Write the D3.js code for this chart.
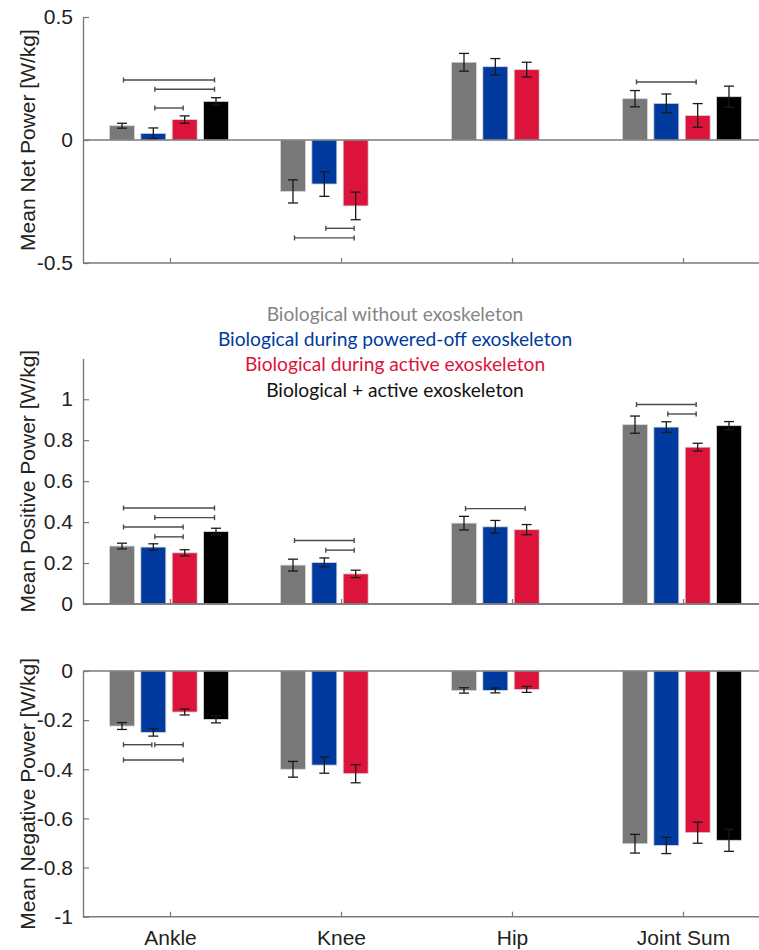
<!DOCTYPE html>
<html>
<head>
<meta charset="utf-8">
<script src="https://cdn.jsdelivr.net/npm/d3@7"></script>
<style>
  html, body { margin: 0; padding: 0; background: #fff; }
  svg { display: block; }
</style>
</head>
<body>
<script>
// Joint categories and experimental conditions
const categories = ["Ankle", "Knee", "Hip", "Joint Sum"];
const seriesNames = [
  "Biological without exoskeleton",
  "Biological during powered-off exoskeleton",
  "Biological during active exoskeleton",
  "Biological + active exoskeleton"
];
const barColors = ["#787878", "#003a9e", "#dc143c", "#000000"];
const legendColors = ["#858585", "#003a9e", "#dc143c", "#111111"];

// Mean net power [W/kg] and its error, per condition (null = not measured)
const netWithout     = [0.058, -0.209, 0.316, 0.168];
const netPoweredOff  = [0.027, -0.179, 0.298, 0.149];
const netActive      = [0.083, -0.268, 0.286, 0.100];
const netTotal       = [0.157, null, null, 0.176];
const netWithoutErr    = [0.010, 0.047, 0.036, 0.033];
const netPoweredOffErr = [0.022, 0.050, 0.033, 0.038];
const netActiveErr     = [0.015, 0.056, 0.030, 0.048];
const netTotalErr      = [0.015, null, null, 0.043];

// Mean positive power [W/kg]
const posWithout     = [0.283, 0.190, 0.395, 0.876];
const posPoweredOff  = [0.278, 0.203, 0.377, 0.864];
const posActive      = [0.250, 0.147, 0.363, 0.766];
const posTotal       = [0.354, null, null, 0.871];
const posWithoutErr    = [0.014, 0.029, 0.033, 0.042];
const posPoweredOffErr = [0.016, 0.022, 0.031, 0.026];
const posActiveErr     = [0.015, 0.018, 0.025, 0.019];
const posTotalErr      = [0.016, null, null, 0.020];

// Mean negative power [W/kg]
const negWithout     = [-0.224, -0.400, -0.079, -0.703];
const negPoweredOff  = [-0.250, -0.383, -0.079, -0.710];
const negActive      = [-0.167, -0.418, -0.075, -0.658];
const negTotal       = [-0.197, null, null, -0.689];
const negWithoutErr    = [0.014, 0.032, 0.011, 0.038];
const negPoweredOffErr = [0.015, 0.033, 0.010, 0.033];
const negActiveErr     = [0.012, 0.037, 0.012, 0.043];
const negTotalErr      = [0.014, null, null, 0.045];

// Significance brackets: [category, from condition, to condition, level]
const netBrackets = [
  [0, 0, 3, 0.244], [0, 1, 3, 0.206], [0, 1, 2, 0.130],
  [1, 1, 2, -0.359], [1, 0, 2, -0.398],
  [3, 0, 2, 0.236]
];
const posBrackets = [
  [0, 0, 3, 0.469], [0, 1, 3, 0.422], [0, 0, 2, 0.376], [0, 1, 2, 0.328],
  [1, 0, 2, 0.310], [1, 1, 2, 0.263],
  [2, 0, 2, 0.466],
  [3, 0, 2, 0.974], [3, 1, 2, 0.928]
];
const negBrackets = [
  [0, 0, 1, -0.300], [0, 1, 2, -0.300], [0, 0, 2, -0.362]
];

// Tick values
const netTicks = [-0.5, 0, 0.5];
const posTicks = [0, 0.2, 0.4, 0.6, 0.8, 1];
const negTicks = [-1, -0.8, -0.6, -0.4, -0.2, 0];

const W = 759, H = 950;
const axisX = 83, axisRight = 759;
const axisColor = "#7a7a7a";
const textColor = "#222222";
const sansFont = "'Liberation Sans', Arial, Helvetica, sans-serif";

const svg = d3.select("body").append("svg")
  .attr("width", W).attr("height", H)
  .style("background", "#fff");

// Category centres and per-condition offsets inside a group
const xCat = d3.scaleLinear().domain([0, 3]).range([170, 683]);
const xOff = d3.scaleLinear().domain([0, 3]).range([-48, 46]);
const barW = 25;
const cx = (i, j) => xCat(i) + xOff(j);

const fmt = d => String(d);

function drawPanel(cfg) {
  const g = svg.append("g");
  const y = d3.scaleLinear().domain(cfg.domain).range([cfg.bottom, cfg.top]);

  // Bars
  cfg.values.forEach((vals, j) => {
    vals.forEach((v, i) => {
      if (v === null) return;
      g.append("rect")
        .attr("x", cx(i, j) - barW / 2)
        .attr("y", Math.min(y(v), y(0)))
        .attr("width", barW)
        .attr("height", Math.abs(y(v) - y(0)))
        .attr("fill", barColors[j])
        .attr("stroke", "#d8d8d8")
        .attr("stroke-width", 0.8);
    });
  });

  // Error bars
  cfg.values.forEach((vals, j) => {
    vals.forEach((v, i) => {
      if (v === null) return;
      const e = cfg.errors[j][i];
      const x0 = cx(i, j);
      const y1 = y(v - e), y2 = y(v + e);
      const eg = g.append("g").attr("stroke", "#1a1a1a").attr("stroke-width", 1.3);
      eg.append("line").attr("x1", x0).attr("x2", x0).attr("y1", y1).attr("y2", y2);
      eg.append("line").attr("x1", x0 - 5).attr("x2", x0 + 5).attr("y1", y1).attr("y2", y1);
      eg.append("line").attr("x1", x0 - 5).attr("x2", x0 + 5).attr("y1", y2).attr("y2", y2);
    });
  });

  // Significance brackets
  cfg.brackets.forEach(([i, a, b, lv]) => {
    const xa = cx(i, a) + 1.5, xb = cx(i, b) - 1.5, yy = y(lv);
    const bg = g.append("g").attr("stroke", "#4a4a4a").attr("stroke-width", 1.4);
    bg.append("line").attr("x1", xa).attr("x2", xb).attr("y1", yy).attr("y2", yy);
    bg.append("line").attr("x1", xa).attr("x2", xa).attr("y1", yy - 2.5).attr("y2", yy + 2.5);
    bg.append("line").attr("x1", xb).attr("x2", xb).attr("y1", yy - 2.5).attr("y2", yy + 2.5);
  });

  // Zero baseline and bottom axis line
  g.append("line")
    .attr("x1", axisX).attr("x2", axisRight)
    .attr("y1", y(0)).attr("y2", y(0))
    .attr("stroke", axisColor).attr("stroke-width", 1.4);
  g.append("line")
    .attr("x1", axisX).attr("x2", axisRight)
    .attr("y1", cfg.bottom).attr("y2", cfg.bottom)
    .attr("stroke", axisColor).attr("stroke-width", 1.4);

  // Category ticks (inward)
  const xAxis = d3.axisBottom(xCat)
    .tickValues([0, 1, 2, 3])
    .tickSizeInner(-5).tickSizeOuter(0).tickPadding(13.4)
    .tickFormat(d => cfg.showCategories ? categories[d] : "");
  const xg = g.append("g").attr("transform", `translate(0,${cfg.bottom})`).call(xAxis);
  xg.select(".domain").remove();
  xg.selectAll(".tick line").attr("stroke", axisColor).attr("stroke-width", 1.2);
  xg.selectAll(".tick text")
    .attr("fill", textColor)
    .style("font-family", sansFont).style("font-size", "21px");

  // Y axis with inward ticks
  const yAxis = d3.axisLeft(y)
    .tickValues(cfg.ticks)
    .tickSizeInner(-6).tickSizeOuter(0).tickPadding(10)
    .tickFormat(fmt);
  const yg = g.append("g").attr("transform", `translate(${axisX},0)`).call(yAxis);
  yg.select(".domain").attr("stroke", axisColor).attr("stroke-width", 1.4);
  yg.selectAll(".tick line").attr("stroke", axisColor).attr("stroke-width", 1.2);
  yg.selectAll(".tick text")
    .attr("fill", textColor)
    .style("font-family", sansFont).style("font-size", "21px");

  // Y axis title
  g.append("text")
    .attr("transform", `translate(35,${(cfg.top + cfg.bottom) / 2}) rotate(-90)`)
    .attr("text-anchor", "middle")
    .attr("fill", textColor)
    .style("font-family", sansFont).style("font-size", "21px")
    .text(cfg.title);
}

drawPanel({
  domain: [-0.5, 0.5], top: 17, bottom: 263, ticks: netTicks,
  values: [netWithout, netPoweredOff, netActive, netTotal],
  errors: [netWithoutErr, netPoweredOffErr, netActiveErr, netTotalErr],
  brackets: netBrackets, title: "Mean Net Power [W/kg]", showCategories: false
});

drawPanel({
  domain: [0, 1.2], top: 358.3, bottom: 604, ticks: posTicks,
  values: [posWithout, posPoweredOff, posActive, posTotal],
  errors: [posWithoutErr, posPoweredOffErr, posActiveErr, posTotalErr],
  brackets: posBrackets, title: "Mean Positive Power [W/kg]", showCategories: false
});

drawPanel({
  domain: [-1, 0], top: 671, bottom: 916.7, ticks: negTicks,
  values: [negWithout, negPoweredOff, negActive, negTotal],
  errors: [negWithoutErr, negPoweredOffErr, negActiveErr, negTotalErr],
  brackets: negBrackets, title: "Mean Negative Power [W/kg]", showCategories: true
});

// Legend: coloured condition names stacked above the middle panel
const legend = svg.append("g");
seriesNames.forEach((name, j) => {
  legend.append("text")
    .attr("x", 395).attr("y", 320.7 + j * 25.3)
    .attr("text-anchor", "middle")
    .attr("fill", legendColors[j])
    .style("font-family", "Lato, 'Open Sans', sans-serif")
    .style("font-size", "19.2px")
    .text(name);
});
</script>
</body>
</html>
